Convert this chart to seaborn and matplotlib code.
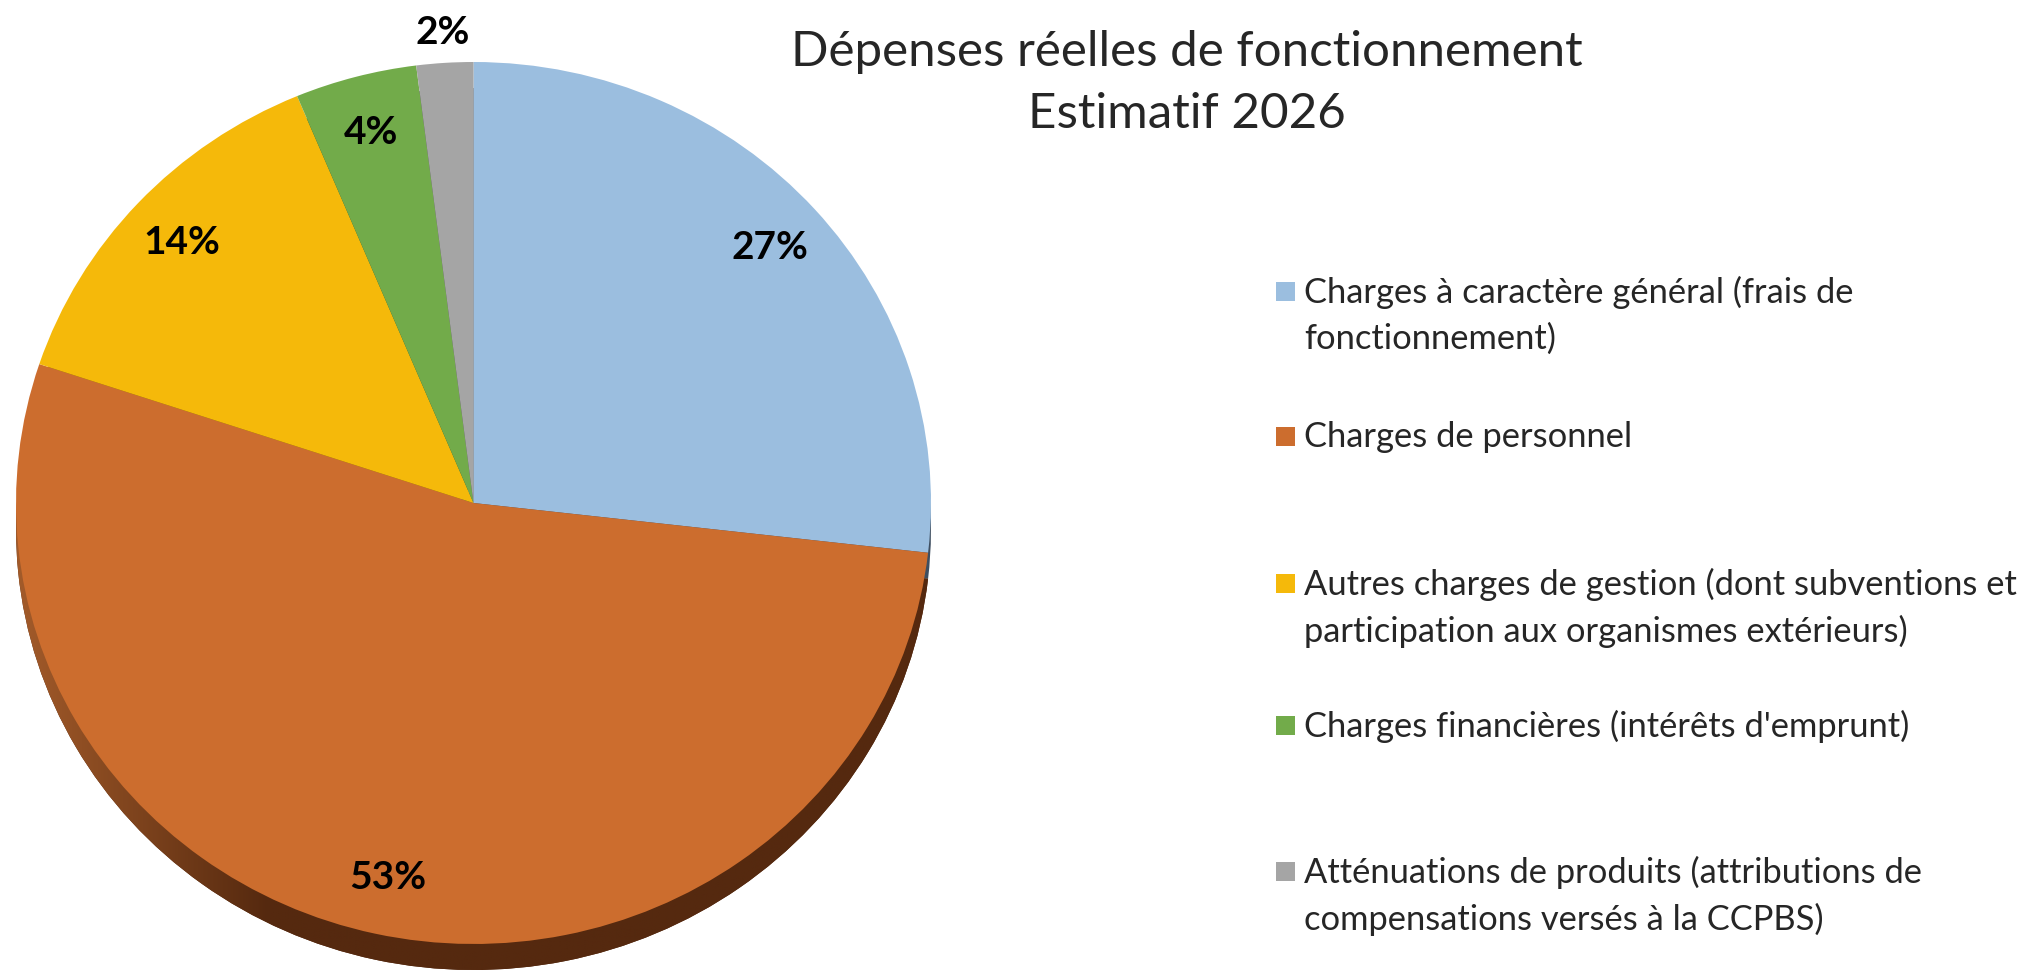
import matplotlib
matplotlib.use("Agg")
import matplotlib.pyplot as plt
from matplotlib.patches import Rectangle
from matplotlib.colors import to_rgb
import seaborn as sns
import numpy as np

# ---- data ----
categories = [
    "Charges à caractère général (frais de\nfonctionnement)",
    "Charges de personnel",
    "Autres charges de gestion (dont subventions et\nparticipation aux organismes extérieurs)",
    "Charges financières (intérêts d'emprunt)",
    "Atténuations de produits (attributions de\ncompensations versés à la CCPBS)",
]
shares = [26.8, 53.3, 13.6, 4.3, 2.0]
title_lines = ["Dépenses réelles de fonctionnement", "Estimatif 2026"]

colors = ["#9BBEDF", "#CC6D2E", "#F5B90A", "#72AB4A", "#A5A5A5"]
shadow_colors = ["#3E4E60", "#55290F", "#7A5C05", "#395625", "#525252"]

sns.set_theme(style="white")
plt.rcParams["font.family"] = ["Lato", "DejaVu Sans"]

W, H = 2029, 973
fig = plt.figure(figsize=(W / 100, H / 100), dpi=100)
fig.patch.set_facecolor("white")

# pie axes positioned in pixel box (face radius ~441 px vertically, shadow 26 px)
px0, px1 = 16, 931
py_top, py_bot = 62, 970
depth = 0.059
pax = fig.add_axes([px0 / W, 1 - py_bot / H, (px1 - px0) / W, (py_bot - py_top) / H])

# shadow (3D side)
sw, _ = pax.pie(shares, colors=shadow_colors, startangle=90, counterclock=False,
                center=(0, -depth), radius=1.0, frame=True,
                wedgeprops=dict(linewidth=0))
# gradient on the orange side (lighter on the left)
xs = np.linspace(-1, 1, 400)
t = np.clip((xs + 1.0) / 0.55, 0, 1)[None, :, None]
light = np.array(to_rgb("#A35B2A"))
dark = np.array(to_rgb("#55290F"))
grad = np.repeat(light * (1 - t) + dark * t, 10, axis=0)
im = pax.imshow(grad, extent=(-1, 1, -1 - depth, 1 - depth), aspect="auto",
                zorder=sw[1].get_zorder() + 0.1, interpolation="bilinear")
im.set_clip_path(sw[1])

# top face
wedges, _, autotexts = pax.pie(
    shares, colors=colors, startangle=90, counterclock=False,
    center=(0, 0), radius=1.0, frame=True,
    autopct=lambda p: f"{p:.0f}%", pctdistance=0.87,
    wedgeprops=dict(linewidth=0, zorder=3),
    textprops=dict(fontsize=28, fontweight="bold", color="black", zorder=5))
# small slice label outside
w = wedges[-1]
ang = np.deg2rad((w.theta1 + w.theta2) / 2)
autotexts[-1].set_position((1.07 * np.cos(ang), 1.07 * np.sin(ang)))

pax.set_xlim(-1, 1)
pax.set_ylim(-1 - depth, 1)
pax.set_aspect("auto")
pax.axis("off")

# overlay axes in pixel coords for title and legend
ax = fig.add_axes([0, 0, 1, 1], facecolor="none")
ax.set_xlim(0, W)
ax.set_ylim(H, 0)
ax.axis("off")

ax.text(1187, 52, title_lines[0], ha="center", va="center", fontsize=35.5)
ax.text(1187, 114, title_lines[1], ha="center", va="center", fontsize=35.5)

leg_rows = [292, 437, 584, 726, 872]
line_gap = 47
for cat, col, y in zip(categories, colors, leg_rows):
    ax.add_patch(Rectangle((1276, y - 10), 19, 19, facecolor=col, edgecolor="none"))
    for i, line in enumerate(cat.split("\n")):
        ax.text(1304, y + i * line_gap, line, ha="left", va="center", fontsize=24.8)

fig.savefig("out.png", dpi=100, facecolor="white")
